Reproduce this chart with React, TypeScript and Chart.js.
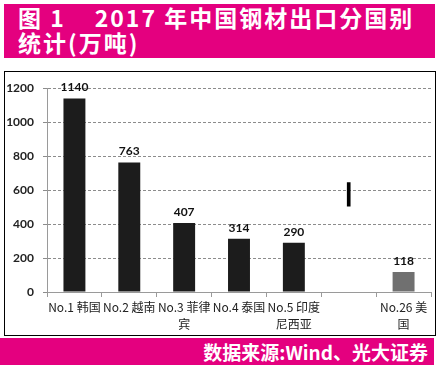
import React, { useEffect, useRef } from 'react';
import { Chart, registerables } from 'chart.js';

Chart.register(...registerables);

const titleLine1 = '图 1    2017 年中国钢材出口分国别';
const titleLine2 = '统计(万吨)';
const sourceText = '数据来源:Wind、光大证券';

const categories: string[][] = [
  ['No.1 韩国'],
  ['No.2 越南'],
  ['No.3 菲律', '宾'],
  ['No.4 泰国'],
  ['No.5 印度', '尼西亚'],
  [''],
  ['No.26 美', '国'],
];
const exportVolumes: (number | null)[] = [1140, 763, 407, 314, 290, null, 118];
const barColors = ['#1c1c1c', '#1c1c1c', '#1c1c1c', '#1c1c1c', '#1c1c1c', '#1c1c1c', '#707070'];
const breakMark: ([number, number] | null)[] = [null, null, null, null, null, [505, 645], null];
const yMin = 0;
const yMax = 1200;
const yStep = 200;

const MAGENTA = '#E4007F';
const GRID_COLOR = '#8c8c8c';

const dashedGrid = {
  id: 'dashedGrid',
  beforeDatasetsDraw(chart: any) {
    const { ctx, chartArea, scales } = chart;
    const y = scales.y;
    ctx.save();
    ctx.strokeStyle = GRID_COLOR;
    ctx.lineWidth = 1;
    ctx.setLineDash([3, 2]);
    y.ticks.forEach((t: any) => {
      if (t.value === yMin) return;
      const py = Math.round(y.getPixelForValue(t.value)) + 0.5;
      ctx.beginPath();
      ctx.moveTo(chartArea.left - 4, py);
      ctx.lineTo(chartArea.right, py);
      ctx.stroke();
    });
    ctx.restore();
  },
};

const valueLabels = {
  id: 'valueLabels',
  afterDatasetsDraw(chart: any) {
    const meta = chart.getDatasetMeta(0);
    const ctx = chart.ctx;
    ctx.save();
    ctx.font = 'bold 12px Lato, "Open Sans", sans-serif';
    ctx.fillStyle = '#111';
    ctx.textAlign = 'center';
    ctx.textBaseline = 'bottom';
    meta.data.forEach((bar: any, i: number) => {
      const v = exportVolumes[i];
      if (v == null) return;
      ctx.fillText(String(v), bar.x, bar.y - 5);
    });
    ctx.restore();
  },
};

export default function App() {
  const canvasRef = useRef<HTMLCanvasElement | null>(null);

  useEffect(() => {
    if (!canvasRef.current) return;
    const chart = new Chart(canvasRef.current, {
      type: 'bar',
      data: {
        labels: categories as any,
        datasets: [
          {
            data: exportVolumes as any,
            backgroundColor: barColors,
            categoryPercentage: 0.8,
            barPercentage: 0.5,
          },
          {
            data: breakMark as any,
            backgroundColor: '#000',
            grouped: false,
            barThickness: 3,
          } as any,
        ],
      },
      options: {
        animation: false,
        responsive: false,
        devicePixelRatio: 1,
        layout: { padding: { top: 13, right: 4 } },
        plugins: {
          legend: { display: false },
          tooltip: { enabled: false },
        },
        scales: {
          x: {
            offset: true,
            grid: { drawOnChartArea: false, tickLength: 5, color: '#9a9a9a', offset: true },
            border: { color: '#9a9a9a' },
            ticks: {
              color: '#222',
              font: { family: '"Noto Sans CJK SC", sans-serif', size: 12, lineHeight: 1.4 },
              padding: 2,
              maxRotation: 0,
              autoSkip: false,
            },
            afterFit: (s: any) => {
              s.height = 43;
            },
          },
          y: {
            min: yMin,
            max: yMax,
            ticks: {
              stepSize: yStep,
              color: '#222',
              font: { family: 'Lato, "Open Sans", sans-serif', size: 12, weight: 'bold' },
              padding: 9,
              callback: (v: any) => String(v),
            },
            grid: { drawOnChartArea: false, color: GRID_COLOR, tickLength: 4, lineWidth: 1 },
            border: { color: '#9a9a9a' },
            afterFit: (s: any) => {
              s.width = 42;
            },
          },
        },
      } as any,
      plugins: [dashedGrid, valueLabels],
    });
    return () => chart.destroy();
  }, []);

  return (
    <div
      style={{
        position: 'absolute',
        left: 0,
        top: 0,
        width: 440,
        height: 367,
        background: '#fff',
        overflow: 'hidden',
      }}
    >
      <div
        style={{
          position: 'absolute',
          left: 4,
          top: 4,
          width: 431,
          height: 54,
          background: MAGENTA,
          color: '#fff',
          fontFamily: '"Noto Sans CJK SC", sans-serif',
          fontWeight: 700,
          fontSize: 23,
          lineHeight: '25px',
          letterSpacing: 2,
          padding: '1px 0 0 14px',
          boxSizing: 'border-box',
          whiteSpace: 'pre',
        }}
      >
        {titleLine1}
        <br />
        {titleLine2}
      </div>
      <div
        style={{
          position: 'absolute',
          left: 4,
          top: 71,
          width: 432,
          height: 265,
          border: '1.5px solid #000',
          boxSizing: 'border-box',
        }}
      />
      <canvas
        ref={canvasRef}
        width={430}
        height={263}
        style={{ position: 'absolute', left: 5, top: 72, width: 430, height: 263 }}
      />
      <div
        style={{
          position: 'absolute',
          left: 0,
          top: 338,
          width: 434,
          height: 27,
          background: MAGENTA,
          color: '#fff',
          fontFamily: '"Noto Sans CJK SC", sans-serif',
          fontWeight: 700,
          fontSize: 19,
          lineHeight: '27px',
          textAlign: 'right',
          paddingRight: 6,
          boxSizing: 'border-box',
          whiteSpace: 'pre',
        }}
      >
        {sourceText}
      </div>
    </div>
  );
}
